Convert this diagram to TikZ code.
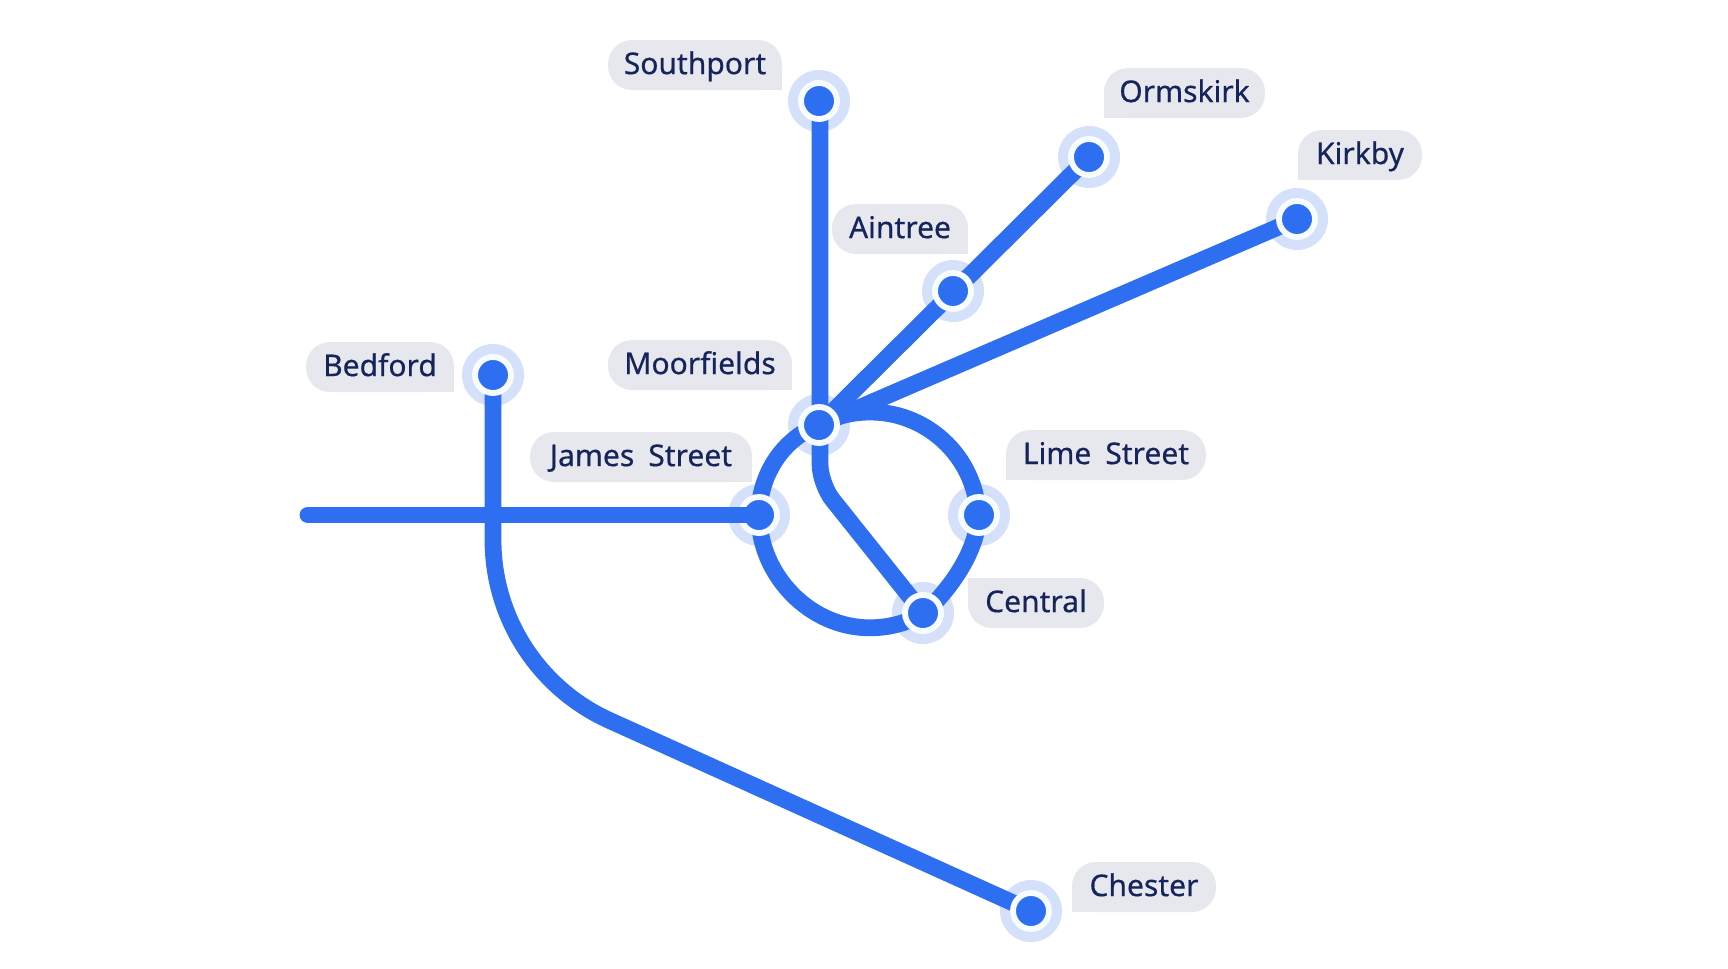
\documentclass[tikz,border=0pt]{standalone}
\usepackage{fontspec}
\setmainfont{Noto Sans}[FakeBold=0.5,WordSpace=1.8]
\definecolor{linecol}{HTML}{2D6FF0}
\definecolor{halocol}{HTML}{D5E1FA}
\definecolor{ringcol}{HTML}{F6FCFF}
\definecolor{bubcol}{HTML}{E7E8EE}
\definecolor{txtcol}{HTML}{16245C}
\tikzset{
  halo/.style={circle,fill=halocol,draw=none,inner sep=0pt,minimum size=46.5pt},
  stn/.style={circle,fill=linecol,draw=ringcol,line width=4.4pt,inner sep=0pt,minimum size=27pt},
  track/.style={draw=linecol,line width=12.6pt},
  bubbase/.style={fill=bubcol,draw=none,inner sep=0pt,rounded corners=18pt,minimum height=37.5pt},
  sqr/.style={fill=bubcol,draw=none},
  lab/.style={text=txtcol,font=\fontsize{22.5}{26}\selectfont,inner sep=0pt,text height=16pt,text depth=4.6pt,anchor=center},
}
% x1 x2 ycentre name text corner dx dy textshift
\newcommand{\mybub}[9]{%
  \node[bubbase,minimum width=#2*0.75pt-#1*0.75pt,anchor=center] (b#4) at ({(#1+#2)/2},#3) {};
  \fill[sqr] (b#4.#6) rectangle ++(#7,#8);
  \node[lab] (t#4) at ({(#1+#2)/2},#3+#9) {#5};
}
\begin{document}
\begin{tikzpicture}[x=0.75pt,y=-0.75pt]
\useasboundingbox (0,0) rectangle (1728,968);
% halos
\node[halo] (hSouth) at (819,101) {};
\node[halo] (hOrm) at (1089,157) {};
\node[halo] (hKirk) at (1297,219) {};
\node[halo] (hAin) at (953,291) {};
\node[halo] (hBed) at (493,375) {};
\node[halo] (hMoor) at (819,425) {};
\node[halo] (hJames) at (759,515) {};
\node[halo] (hLime) at (979,515) {};
\node[halo] (hCent) at (923,613) {};
\node[halo] (hChes) at (1031,911) {};
\coordinate (ringLime) at (978.2,515.7);
\coordinate (ringBot) at (870,627.8);
\coordinate (west) at (308,515);
\coordinate (topA) at (820,101);
\coordinate (bendA) at (820,484);
\coordinate (bendB) at (493,540);
% tracks
\draw[track] (ringLime) arc[start angle=2.4,end angle=118,radius=81.2pt]
  .. controls (780,440) and (759,478) .. (hJames.center)
  .. controls (759,575) and (810,628) .. (ringBot)
  arc[start angle=270,end angle=299.5,radius=81.2pt]
  .. controls (950,590) and (978,550) .. (ringLime) -- cycle;
\draw[track,rounded corners=15pt] (topA) -- (bendA) -- (hCent.center);
\draw[track] (hMoor.center) -- (hOrm.center);
\draw[track] (hMoor.center) -- (hKirk.center);
\draw[track] (hBed.center) -- (bendB) arc[start angle=180,end angle=245.8,radius=148.5pt] -- (hChes.center);
% stations
\node[stn] (sSouth) at (hSouth) {};
\node[stn] (sOrm) at (hOrm) {};
\node[stn] (sKirk) at (hKirk) {};
\node[stn] (sAin) at (hAin) {};
\node[stn] (sBed) at (hBed) {};
\node[stn] (sMoor) at (hMoor) {};
\node[stn] (sJames) at (hJames) {};
\node[stn] (sLime) at (hLime) {};
\node[stn] (sCent) at (hCent) {};
\node[stn] (sChes) at (hChes) {};
\draw[track,line cap=round] (west) -- (sJames.center);
% labels
\mybub{608}{782}{65}{South}{Southport}{south east}{-28}{-28}{1.5}
\mybub{1104}{1265}{93}{Orm}{Ormskirk}{south west}{28}{-28}{1.5}
\mybub{1298}{1422}{155}{Kirk}{Kirkby}{south west}{28}{-28}{1.5}
\mybub{832}{968}{229}{Ain}{Aintree}{south east}{-28}{-28}{1.5}
\mybub{306}{454}{367}{Bed}{Bedford}{south east}{-28}{-28}{1.5}
\mybub{608}{792}{365}{Moor}{Moorfields}{south east}{-28}{-28}{1.5}
\mybub{530}{752}{457}{James}{James Street}{south east}{-28}{-28}{1.5}
\mybub{1006}{1206}{455}{Lime}{Lime Street}{south west}{28}{-28}{1.5}
\mybub{968}{1104}{603}{Cent}{Central}{north west}{28}{28}{1.5}
\mybub{1072}{1216}{887}{Ches}{Chester}{south west}{28}{-28}{1.5}
\end{tikzpicture}
\end{document}
